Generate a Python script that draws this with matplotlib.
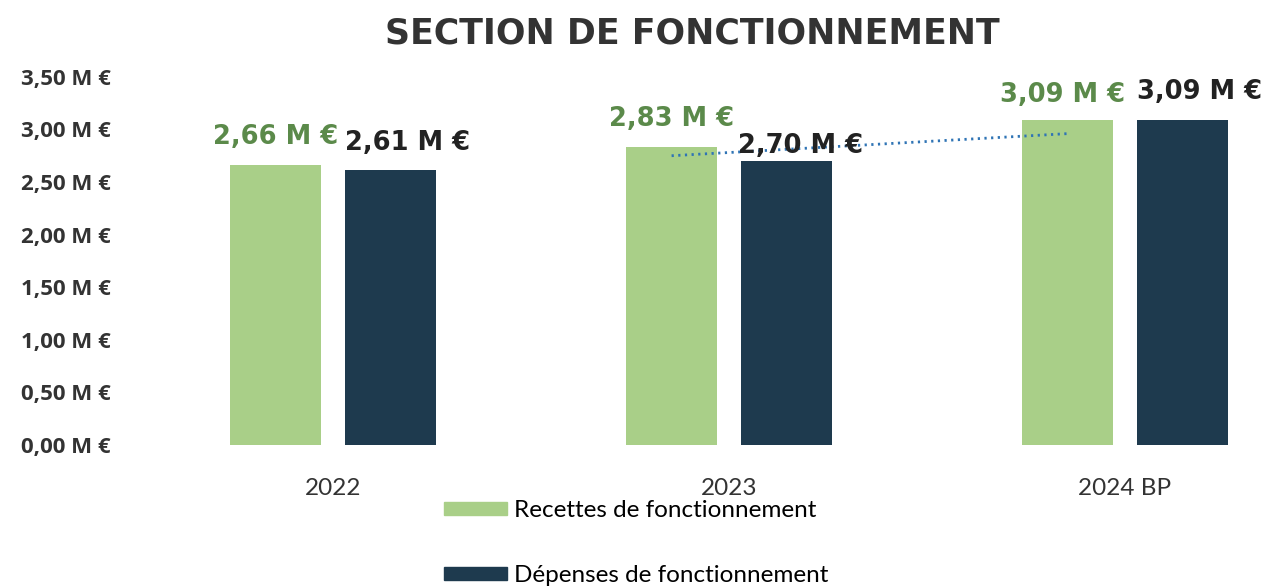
import matplotlib
matplotlib.use("Agg")
import matplotlib.pyplot as plt
import numpy as np
from matplotlib.patches import Patch

categories = ["2022", "2023", "2024 BP"]
recettes = [2.66, 2.83, 3.09]
depenses = [2.61, 2.70, 3.09]
recettes_labels = ["2,66 M €", "2,83 M €", "3,09 M €"]
depenses_labels = ["2,61 M €", "2,70 M €", "3,09 M €"]
trend_x = [1, 2]
trend_vals = [2.75, 2.96]
yticks = [0, 0.5, 1.0, 1.5, 2.0, 2.5, 3.0, 3.5]
ytick_labels = ["0,00 M €", "0,50 M €", "1,00 M €", "1,50 M €", "2,00 M €",
                "2,50 M €", "3,00 M €", "3,50 M €"]

green = "#a9cf88"
dark = "#1e3a4e"
green_txt = "#5b8a4a"

W, H = 1264, 587
fig = plt.figure(figsize=(W / 100, H / 100), dpi=100)
ax = fig.add_axes([140 / W, 1 - 445 / H, (W - 140) / W, (445 - 60) / H])

x = np.arange(len(categories))
bw = 0.23
off = 0.145
ax.bar(x - off, recettes, bw, color=green, label="Recettes de fonctionnement")
ax.bar(x + off, depenses, bw, color=dark, label="Dépenses de fonctionnement")

ax.plot(np.array(trend_x) - off, trend_vals, linestyle=(0, (0.8, 1.6)),
        color="#2f74b5", linewidth=2.0)

rec_offsets = [(0, 15), (0, 15), (-3.5, 13)]
for i in range(len(categories)):
    ax.annotate(recettes_labels[i], (x[i] - off, recettes[i]),
                xytext=rec_offsets[i], textcoords="offset points",
                ha="center", va="baseline", fontsize=18.5, fontweight="bold",
                color=green_txt, family="DejaVu Sans")
dep_offsets = [(12, 15), (10, 6), (12, 15)]
for i in range(len(categories)):
    ax.annotate(depenses_labels[i], (x[i] + off, depenses[i]),
                xytext=dep_offsets[i], textcoords="offset points",
                ha="center", va="baseline", fontsize=18.5, fontweight="bold",
                color="#222222", family="DejaVu Sans")

ax.set_xlim((140 - 333) / 396, (W - 333) / 396)
ax.set_ylim(0, 3.66)
ax.set_yticks(yticks)
ax.set_yticklabels(ytick_labels, fontsize=16, fontweight="bold",
                   color="#333333", family="Open Sans")
ax.set_xticks(x)
ax.set_xticklabels(categories, fontsize=17.5, color="#333333", family="Lato")
ax.tick_params(axis="both", length=0)
ax.tick_params(axis="y", pad=21)
ax.tick_params(axis="x", pad=24)
for s in ax.spines.values():
    s.set_visible(False)

fig.text(692 / W, 1 - 33 / H, "SECTION DE FONCTIONNEMENT", ha="center",
         va="center", fontsize=25, fontweight="bold", color="#333333",
         family="DejaVu Sans")

handles = [Patch(color=green), Patch(color=dark)]
fig.legend(handles, ["Recettes de fonctionnement", "Dépenses de fonctionnement"],
           loc="center", bbox_to_anchor=(636 / W, 1 - 543 / H), frameon=False,
           ncol=1, handlelength=2.6, handleheight=0.45, handletextpad=0.3,
           labelspacing=1.8, prop={"family": "Lato", "size": 17.5})

fig.savefig("out.png", dpi=100)
